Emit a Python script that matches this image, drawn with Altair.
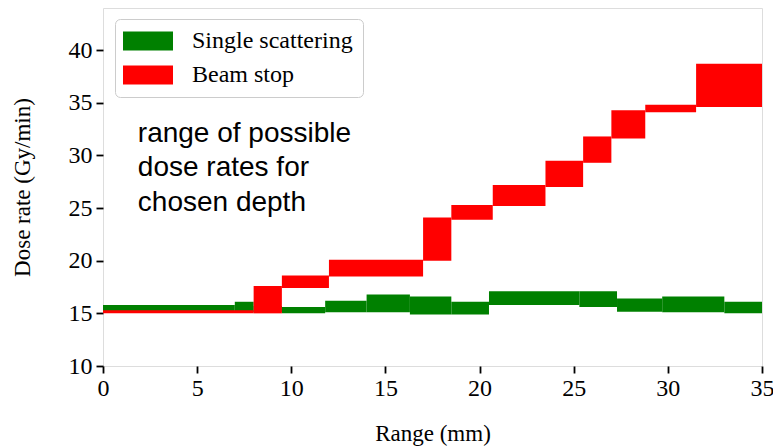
import altair as alt
import pandas as pd

# Single scattering bands: range start, range end, dose low, dose high
ss_x0 = [0.0, 7.0, 8.0, 9.5, 11.8, 14.0, 16.3, 18.5, 20.5, 25.3, 27.3, 29.7, 33.0]
ss_x1 = [7.0, 8.0, 9.5, 11.8, 14.0, 16.3, 18.5, 20.5, 25.3, 27.3, 29.7, 33.0, 35.0]
ss_lo = [15.2, 15.1, 15.1, 15.0, 15.1, 15.1, 14.9, 14.9, 15.8, 15.6, 15.15, 15.1, 15.0]
ss_hi = [15.8, 16.1, 15.7, 15.6, 16.2, 16.8, 16.6, 16.1, 17.1, 17.1, 16.4, 16.6, 16.1]

# Beam stop bands
bs_x0 = [0.0, 8.0, 9.5, 12.0, 17.0, 18.5, 20.7, 23.5, 25.5, 27.0, 28.8, 31.5]
bs_x1 = [8.0, 9.5, 12.0, 17.0, 18.5, 20.7, 23.5, 25.5, 27.0, 28.8, 31.5, 35.0]
bs_lo = [15.0, 15.0, 17.4, 18.5, 20.0, 23.9, 25.2, 27.0, 29.3, 31.6, 34.1, 34.6]
bs_hi = [15.3, 17.6, 18.6, 20.1, 24.1, 25.3, 27.2, 29.5, 31.8, 34.3, 34.8, 38.7]

series_names = ["Single scattering", "Beam stop"]
series_colors = ["#008000", "#ff0000"]

x_ticks = [0, 5, 10, 15, 20, 25, 30, 35]
y_ticks = [10, 15, 20, 25, 30, 35, 40]

annotation = "range of possible\ndose rates for\nchosen depth"

rows = []
for a, b, lo, hi in zip(ss_x0, ss_x1, ss_lo, ss_hi):
    rows.append({"x0": a, "x1": b, "lo": lo, "hi": hi, "series": series_names[0], "order": 0})
for a, b, lo, hi in zip(bs_x0, bs_x1, bs_lo, bs_hi):
    rows.append({"x0": a, "x1": b, "lo": lo, "hi": hi, "series": series_names[1], "order": 1})
df = pd.DataFrame(rows)

SERIF = "Liberation Serif"

bands = alt.Chart(df).mark_rect(strokeWidth=0).encode(
    x=alt.X("x0:Q", scale=alt.Scale(domain=[0, 35], nice=False, zero=False),
            axis=alt.Axis(title="Range (mm)", values=x_ticks, grid=False, domain=False,
                          tickColor="black", tickWidth=1.8, tickSize=7,
                          labelFont=SERIF, labelFontSize=24, labelColor="black", labelPadding=3,
                          titleFont=SERIF, titleFontSize=23, titleFontWeight="normal",
                          titleColor="black", titlePadding=22, labelFlush=False)),
    x2="x1:Q",
    y=alt.Y("lo:Q", scale=alt.Scale(domain=[10, 44], nice=False, zero=False),
            axis=alt.Axis(title="Dose rate (Gy/min)", values=y_ticks, grid=False, domain=False,
                          tickColor="black", tickWidth=1.8, tickSize=7,
                          labelFont=SERIF, labelFontSize=24, labelColor="black", labelPadding=4,
                          titleFont=SERIF, titleFontSize=23, titleFontWeight="normal",
                          titleColor="black", titlePadding=34, labelFlush=False)),
    y2="hi:Q",
    color=alt.Color("series:N",
                    scale=alt.Scale(domain=series_names, range=series_colors),
                    legend=alt.Legend(title=None, orient="none", legendX=12, legendY=11,
                                      symbolType="M-2.5,-0.95H2.5V0.95H-2.5Z", symbolSize=400,
                                      symbolStrokeWidth=0, symbolOpacity=1, symbolOffset=11,
                                      labelFont=SERIF, labelFontSize=24, labelColor="black",
                                      labelOffset=32, labelLimit=400, rowPadding=10, padding=10,
                                      fillColor="white", strokeColor="#cccccc",
                                      cornerRadius=5)),
    order=alt.Order("order:Q"),
)

text = alt.Chart(pd.DataFrame({"x": [1.85], "y": [31.3], "t": [annotation]})).mark_text(
    align="left", baseline="alphabetic", font="Liberation Sans", fontSize=28,
    lineBreak="\n", lineHeight=34.7, color="black"
).encode(x="x:Q", y="y:Q", text="t:N")

chart = alt.layer(bands, text).properties(
    width=659, height=358,
    autosize=alt.AutoSizeParams(type="none"),
    padding={"left": 103, "top": 8, "right": 11, "bottom": 81},
).configure_view(stroke="#777777", strokeWidth=1).configure(background="white")

chart.save("out.html", embed_options={"renderer": "svg", "actions": False})
